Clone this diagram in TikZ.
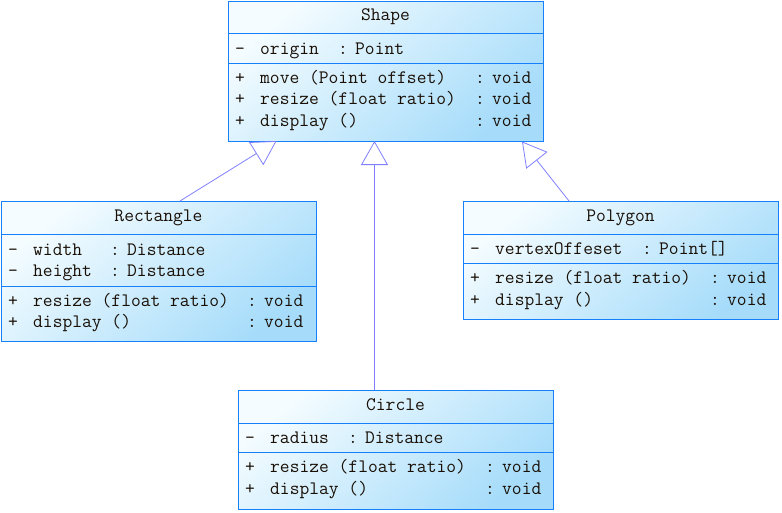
\documentclass[tikz,border=0pt]{standalone}
\usetikzlibrary{arrows.meta}
\definecolor{boxblue}{RGB}{22,128,250}
\definecolor{lightfill}{RGB}{244,252,255}
\definecolor{darkfill}{RGB}{166,220,250}
\definecolor{conn}{RGB}{128,128,255}
\definecolor{ink}{RGB}{25,15,5}
\tikzset{
  umlbox/.style={draw=boxblue, line width=1pt, top color=lightfill, bottom color=darkfill, shading angle=40, minimum width=315pt, inner sep=0pt, anchor=north west},
  sepline/.style={draw=boxblue, line width=1pt},
  txt/.style={anchor=base west, inner sep=0pt, text=ink, font=\fontsize{19}{21}\selectfont\ttfamily},
  ttl/.style={anchor=base, inner sep=0pt, text=ink, font=\fontsize{19}{21}\selectfont\ttfamily},
  inh/.style={draw=conn, line width=0.8pt, -{Triangle[open, length=24pt, width=27pt, line width=0.8pt]}}
}
% #1 name prefix, #2 x0, #3 baseline y, #4 symbol, #5 member, #6 colon offset, #7 type
\newcommand\umlmember[7]{%
  \node[txt] (#1s) at (#2+7,#3) {#4};
  \node[txt] (#1m) at (#2+32,#3) {#5};
  \node[txt] (#1c) at (#2+#6,#3) {:};
  \node[txt] (#1t) at (#2+#6+17,#3) {#7};
}
\begin{document}
\begin{tikzpicture}[x=1pt,y=1pt,yscale=-1]
\useasboundingbox (0,0) rectangle (782,512);

% ---------- Shape ----------
\node[umlbox, minimum height=140pt] (shape) at (228,1) {};
\draw[sepline] (228,33) -- (543,33);
\draw[sepline] (228,63) -- (543,63);
\node[ttl] (shapet) at (385.5,20.5) {Shape};
\umlmember{sa}{228}{54}{-}{origin}{110}{Point}
\umlmember{sb}{228}{83}{+}{move (Point offset)}{247}{void}
\umlmember{sc}{228}{104.5}{+}{resize (float ratio)}{247}{void}
\umlmember{sd}{228}{126}{+}{display ()}{247}{void}

% ---------- Rectangle ----------
\node[umlbox, minimum height=140pt] (rect) at (1,201) {};
\draw[sepline] (1,234) -- (316,234);
\draw[sepline] (1,286) -- (316,286);
\node[ttl] (rectt) at (158.5,221) {Rectangle};
\umlmember{ra}{1}{255}{-}{width}{109}{Distance}
\umlmember{rb}{1}{276}{-}{height}{109}{Distance}
\umlmember{rc}{1}{306}{+}{resize (float ratio)}{246}{void}
\umlmember{rd}{1}{327}{+}{display ()}{246}{void}

% ---------- Polygon ----------
\node[umlbox, minimum height=118pt] (poly) at (463,201) {};
\draw[sepline] (463,234) -- (778,234);
\draw[sepline] (463,263) -- (778,263);
\node[ttl] (polyt) at (620.5,221) {Polygon};
\umlmember{pa}{463}{254}{-}{vertexOffeset}{179}{Point[]}
\umlmember{pb}{463}{283.5}{+}{resize (float ratio)}{247}{void}
\umlmember{pc}{463}{305.5}{+}{display ()}{247}{void}

% ---------- Circle ----------
\node[umlbox, minimum height=119pt] (circ) at (238,389.5) {};
\draw[sepline] (238,423) -- (553,423);
\draw[sepline] (238,452) -- (553,452);
\node[ttl] (circt) at (395.5,410) {Circle};
\umlmember{ca}{238}{443}{-}{radius}{110}{Distance}
\umlmember{cb}{238}{472}{+}{resize (float ratio)}{247}{void}
\umlmember{cc}{238}{494}{+}{display ()}{247}{void}

% ---------- connectors ----------
\coordinate (rectup) at (180,201);
\coordinate (shapeL) at (276.5,141);
\coordinate (circup) at (374.5,389.5);
\coordinate (shapeM) at (374.5,141);
\coordinate (polyup) at (569,201);
\coordinate (shapeR) at (522,141.5);
\draw[inh] (rectup) -- (shapeL);
\draw[inh] (circup) -- (shapeM);
\draw[inh] (polyup) -- (shapeR);
\end{tikzpicture}
\end{document}
